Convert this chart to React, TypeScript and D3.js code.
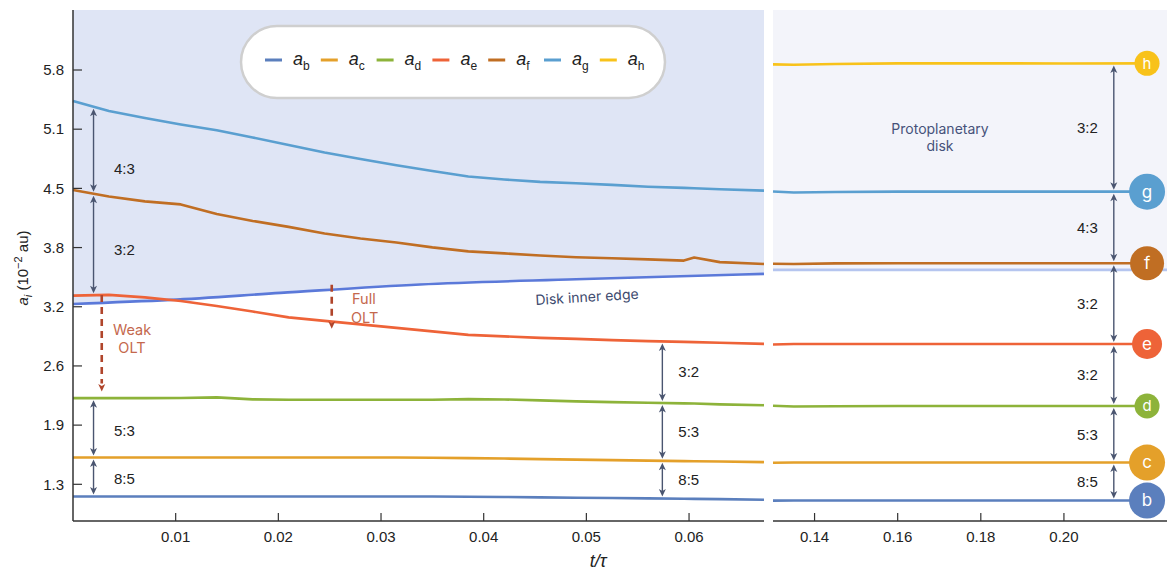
import React from 'react';
import * as d3 from 'd3';

// time grid for the left (early evolution) panel, t/tau
const tLeft = [0, 0.0035, 0.007, 0.0105, 0.014, 0.0175, 0.021, 0.0245, 0.028, 0.0315, 0.035, 0.0385, 0.042, 0.0455, 0.049, 0.0525, 0.056, 0.0595, 0.0605, 0.063, 0.0673];
const bLeft = [1.116, 1.116, 1.116, 1.116, 1.116, 1.116, 1.116, 1.116, 1.116, 1.116, 1.116, 1.114, 1.111, 1.107, 1.103, 1.099, 1.095, 1.091, 1.090, 1.087, 1.080];
const cLeft = [1.544, 1.544, 1.545, 1.544, 1.544, 1.544, 1.545, 1.545, 1.544, 1.544, 1.541, 1.537, 1.533, 1.527, 1.521, 1.516, 1.510, 1.505, 1.504, 1.500, 1.494];
const dLeft = [2.196, 2.196, 2.197, 2.198, 2.205, 2.183, 2.178, 2.179, 2.178, 2.178, 2.178, 2.185, 2.182, 2.172, 2.161, 2.152, 2.145, 2.139, 2.138, 2.128, 2.119];
const eLeft = [3.322, 3.330, 3.303, 3.264, 3.209, 3.147, 3.083, 3.045, 3.006, 2.968, 2.930, 2.891, 2.875, 2.858, 2.847, 2.833, 2.822, 2.814, 2.812, 2.805, 2.792];
const fLeft = [4.483, 4.411, 4.357, 4.324, 4.219, 4.142, 4.077, 4.005, 3.950, 3.906, 3.852, 3.808, 3.786, 3.762, 3.744, 3.733, 3.720, 3.707, 3.740, 3.690, 3.670];
const gLeft = [5.460, 5.350, 5.273, 5.202, 5.138, 5.059, 4.977, 4.894, 4.823, 4.755, 4.691, 4.631, 4.598, 4.571, 4.556, 4.538, 4.518, 4.505, 4.501, 4.490, 4.475];

// disk inner edge
const tDisk = [0, 0.0095, 0.0202, 0.0338, 0.049, 0.0673];
const diskLeft = [3.231, 3.275, 3.352, 3.445, 3.502, 3.561];
const tDiskRight = [0.13, 0.2248];
const diskRight = [3.605, 3.605];

// late evolution (right panel)
const tRight = [0.13, 0.135, 0.145, 0.16, 0.18, 0.2, 0.22];
const bRight = [1.071, 1.072, 1.072, 1.072, 1.072, 1.072, 1.072];
const cRight = [1.487, 1.489, 1.489, 1.489, 1.489, 1.489, 1.489];
const dRight = [2.113, 2.104, 2.108, 2.110, 2.110, 2.110, 2.110];
const eRight = [2.786, 2.791, 2.791, 2.791, 2.791, 2.791, 2.791];
const fRight = [3.673, 3.670, 3.676, 3.678, 3.678, 3.678, 3.678];
const gRight = [4.466, 4.455, 4.461, 4.464, 4.464, 4.464, 4.464];
const hRight = [5.862, 5.858, 5.866, 5.873, 5.873, 5.872, 5.873];

const planets = ['b', 'c', 'd', 'e', 'f', 'g', 'h'];
const leftValues = { b: bLeft, c: cLeft, d: dLeft, e: eLeft, f: fLeft, g: gLeft };
const rightValues = { b: bRight, c: cRight, d: dRight, e: eRight, f: fRight, g: gRight, h: hRight };

// axis ticks
const yTicks = [1.25, 1.9, 2.55, 3.2, 3.85, 4.5, 5.15, 5.8];
const yTickLabels = ['1.3', '1.9', '2.6', '3.2', '3.8', '4.5', '5.1', '5.8'];
const xTicksLeft = [0.01, 0.02, 0.03, 0.04, 0.05, 0.06];
const xTicksRight = [0.14, 0.16, 0.18, 0.2];

// resonance arrows: [outer, inner, ratio]
const leftRatios = [['g', 'f', '4:3'], ['f', 'e', '3:2'], ['d', 'c', '5:3'], ['c', 'b', '8:5']];
const midRatios = [['e', 'd', '3:2'], ['d', 'c', '5:3'], ['c', 'b', '8:5']];
const rightRatios = [['h', 'g', '3:2'], ['g', 'f', '4:3'], ['f', 'e', '3:2'], ['e', 'd', '3:2'], ['d', 'c', '5:3'], ['c', 'b', '8:5']];

const colors = {
  b: '#5b7fbd', c: '#e4a02a', d: '#8db33a', e: '#ee6338',
  f: '#c06e23', g: '#5a9fd0', h: '#f8c21a',
};
const circleR = { b: 18, c: 18, d: 12.5, e: 15, f: 17, g: 18, h: 12.5 };

const W = 1167;
const H = 570;
const FONT = 'Inter, Roboto, "Noto Sans", sans-serif';
const AXFONT = '"Liberation Sans", Arial, sans-serif';
const ARROW = '#4a5570';
const OLT = '#b0452b';

const xL = d3.scaleLinear().domain([0, 0.0673]).range([73, 764]);
const xR = d3.scaleLinear().domain([0.13, 0.2248]).range([773, 1167]);
const y = d3.scaleLinear().domain([0.847, 6.459]).range([521, 10]);

const valueAt = (ts, vs, t) => d3.scaleLinear().domain(ts).range(vs).clamp(true)(t);

const head = (x, yTip, dir) =>
  `M${x},${yTip} L${x - 3.5},${yTip - dir * 7.5} L${x},${yTip - dir * 5.5} L${x + 3.5},${yTip - dir * 7.5} Z`;

const DoubleArrow = ({ x, y1, y2, label, labelX, anchor, frac = 0.5 }) => {
  const top = Math.min(y1, y2) + 2;
  const bot = Math.max(y1, y2) - 2;
  return (
    <g>
      <line x1={x} x2={x} y1={top + 3} y2={bot - 3} stroke={ARROW} strokeWidth={1.4} />
      <path d={head(x, top, -1)} fill={ARROW} />
      <path d={head(x, bot, 1)} fill={ARROW} />
      <text x={labelX} y={top + (bot - top) * frac} dy="0.35em" textAnchor={anchor}
        fontSize={15} fill="#222" fontFamily={AXFONT}>{label}</text>
    </g>
  );
};

export default function App() {
  const lineL = d3.line().x((d) => xL(d[0])).y((d) => y(d[1]));
  const lineR = d3.line().x((d) => xR(d[0])).y((d) => y(d[1]));
  const diskLine = d3.line().x((d) => xL(d[0])).y((d) => y(d[1])).curve(d3.curveMonotoneX);
  const diskArea = d3.area().x((d) => xL(d[0])).y0(y.range()[1]).y1((d) => y(d[1])).curve(d3.curveMonotoneX);
  const diskPts = tDisk.map((t, i) => [t, diskLeft[i]]);

  const yTop = y.range()[1];
  const yBot = y.range()[0];

  const tArrowL = 0.002;
  const tArrowM = 0.0574;
  const tArrowR = 0.212;
  const tCircle = 0.22;

  const eAt = (t) => valueAt(tLeft, eLeft, t);
  const diskAt = (t) => valueAt(tDisk, diskLeft, t);
  const tWeak = 0.0028;
  const tFull = 0.0252;

  const legendX0 = 265;
  const legendStep = 55.8;

  return (
    <div style={{ position: 'absolute', left: 0, top: 0 }}>
      <svg width={W} height={H} style={{ display: 'block', background: '#fff' }}>
        {/* shaded protoplanetary disk region */}
        <path d={diskArea(diskPts)} fill="#dfe5f5" />
        <rect x={xR.range()[0]} y={yTop} width={xR.range()[1] - xR.range()[0]}
          height={y(diskRight[0]) - yTop} fill="#f3f4fa" />

        {/* disk inner edge */}
        <path d={diskLine(diskPts)} fill="none" stroke="#5b79d9" strokeWidth={2.6} />
        <path d={lineR(tDiskRight.map((t, i) => [t, diskRight[i]]))} fill="none" stroke="#b5c5ef" strokeWidth={2.6} />

        {/* planet tracks */}
        {planets.filter((p) => leftValues[p]).map((p) => (
          <path key={'l' + p} d={lineL(tLeft.map((t, i) => [t, leftValues[p][i]]))}
            fill="none" stroke={colors[p]} strokeWidth={2.6} strokeLinejoin="round" />
        ))}
        {planets.map((p) => (
          <path key={'r' + p} d={lineR(tRight.map((t, i) => [t, rightValues[p][i]]))}
            fill="none" stroke={colors[p]} strokeWidth={2.6} strokeLinejoin="round" />
        ))}

        {/* resonance arrows */}
        {leftRatios.map(([a, b, lab], i) => (
          <DoubleArrow key={'la' + i} x={xL(tArrowL)}
            y1={y(valueAt(tLeft, leftValues[a], tArrowL))} y2={y(valueAt(tLeft, leftValues[b], tArrowL))}
            label={lab} labelX={114} anchor="start" frac={i === 0 ? 0.72 : 0.55} />
        ))}
        {midRatios.map(([a, b, lab], i) => (
          <DoubleArrow key={'ma' + i} x={xL(tArrowM)}
            y1={y(valueAt(tLeft, leftValues[a], tArrowM))} y2={y(valueAt(tLeft, leftValues[b], tArrowM))}
            label={lab} labelX={xL(tArrowM) + 16} anchor="start" frac={0.5} />
        ))}
        {rightRatios.map(([a, b, lab], i) => (
          <DoubleArrow key={'ra' + i} x={xR(tArrowR)}
            y1={y(valueAt(tRight, rightValues[a], tArrowR))} y2={y(valueAt(tRight, rightValues[b], tArrowR))}
            label={lab} labelX={xR(tArrowR) - 16} anchor="end" frac={0.5} />
        ))}

        {/* OLT arrows */}
        <line x1={xL(tWeak)} x2={xL(tWeak)} y1={y(eAt(tWeak))} y2={y(2.269) - 8}
          stroke={OLT} strokeWidth={2.6} strokeDasharray="7,5" />
        <path d={head(xL(tWeak), y(2.269), 1)} fill={OLT} />
        <text x={132} y={330} dy="0.35em" textAnchor="middle" fontSize={14.5} fill="#c4684d" fontFamily={FONT}>Weak</text>
        <text x={132} y={348} dy="0.35em" textAnchor="middle" fontSize={14.5} fill="#c4684d" fontFamily={FONT}>OLT</text>

        <line x1={xL(tFull)} x2={xL(tFull)} y1={y(diskAt(tFull)) - 5} y2={y(2.957) - 8}
          stroke={OLT} strokeWidth={2.6} strokeDasharray="7,5" />
        <path d={head(xL(tFull), y(2.957), 1)} fill={OLT} />
        <text x={352} y={299} dy="0.35em" fontSize={14.5} fill="#c4684d" fontFamily={FONT}>Full</text>
        <text x={351} y={318} dy="0.35em" fontSize={14.5} fill="#c4684d" fontFamily={FONT}>OLT</text>

        {/* region labels */}
        <text transform={`translate(587,297) rotate(-3.5)`} dy="0.35em" textAnchor="middle"
          fontSize={14} fill="#3d4a6e" fontFamily={FONT}>Disk inner edge</text>
        <text x={940} y={129} dy="0.35em" textAnchor="middle" fontSize={14} fill="#46527a" fontFamily={FONT}>Protoplanetary</text>
        <text x={940} y={146} dy="0.35em" textAnchor="middle" fontSize={14} fill="#46527a" fontFamily={FONT}>disk</text>

        {/* planet markers */}
        {planets.map((p) => (
          <g key={'c' + p}>
            <circle cx={xR(tCircle)} cy={y(rightValues[p][rightValues[p].length - 1])} r={circleR[p]} fill={colors[p]} />
            <text x={xR(tCircle)} y={y(rightValues[p][rightValues[p].length - 1])} dy="0.35em" textAnchor="middle"
              fontSize={circleR[p] > 14 ? 17 : 15} fill="#fff" fontFamily={FONT}>{p}</text>
          </g>
        ))}

        {/* axes */}
        <line x1={xL.range()[0]} x2={xL.range()[0]} y1={yTop} y2={yBot} stroke="#333" strokeWidth={1.5} />
        <line x1={xL.range()[0]} x2={xL.range()[1]} y1={yBot} y2={yBot} stroke="#333" strokeWidth={1.5} />
        <line x1={xR.range()[0]} x2={xR.range()[1]} y1={yBot} y2={yBot} stroke="#333" strokeWidth={1.5} />
        {yTicks.map((v, i) => (
          <g key={'yt' + i}>
            <line x1={73} x2={82} y1={y(v)} y2={y(v)} stroke="#333" strokeWidth={1.2} />
            <text x={64} y={y(v)} dy="0.35em" textAnchor="end" fontSize={15} fill="#222" fontFamily={AXFONT}>{yTickLabels[i]}</text>
          </g>
        ))}
        {xTicksLeft.map((v) => (
          <g key={'xl' + v}>
            <line x1={xL(v)} x2={xL(v)} y1={yBot} y2={yBot - 8} stroke="#333" strokeWidth={1.2} />
            <text x={xL(v)} y={542} textAnchor="middle" fontSize={15} fill="#222" fontFamily={AXFONT}>{d3.format('.2f')(v)}</text>
          </g>
        ))}
        {xTicksRight.map((v) => (
          <g key={'xr' + v}>
            <line x1={xR(v)} x2={xR(v)} y1={yBot} y2={yBot - 8} stroke="#333" strokeWidth={1.2} />
            <text x={xR(v)} y={542} textAnchor="middle" fontSize={15} fill="#222" fontFamily={AXFONT}>{d3.format('.2f')(v)}</text>
          </g>
        ))}

        <text x={598} y={567} textAnchor="middle" fontSize={18} fill="#222" fontFamily={AXFONT} fontStyle="italic">t/τ</text>
        <text transform="translate(28,268) rotate(-90)" textAnchor="middle" fontSize={15} fill="#222" fontFamily={AXFONT}>
          <tspan fontStyle="italic">a</tspan>
          <tspan fontSize={11} fontStyle="italic" dy={4}>i</tspan>
          <tspan dy={-4}> (10</tspan>
          <tspan fontSize={11} dy={-6}>−2</tspan>
          <tspan dy={6}> au)</tspan>
        </text>

        {/* legend */}
        <rect x={241} y={26} width={424} height={72} rx={36} fill="#fff" stroke="#cfcfcf" strokeWidth={2.5} />
        {planets.map((p, i) => (
          <g key={'lg' + p} transform={`translate(${legendX0 + i * legendStep},60)`}>
            <line x1={0} x2={17} y1={0} y2={0} stroke={colors[p]} strokeWidth={3} />
            <text x={28} y={0} dy="0.3em" fontSize={18} fill="#222" fontFamily={AXFONT}>
              <tspan fontStyle="italic">a</tspan>
              <tspan fontSize={12} dy={5}>{p}</tspan>
            </text>
          </g>
        ))}
      </svg>
    </div>
  );
}
